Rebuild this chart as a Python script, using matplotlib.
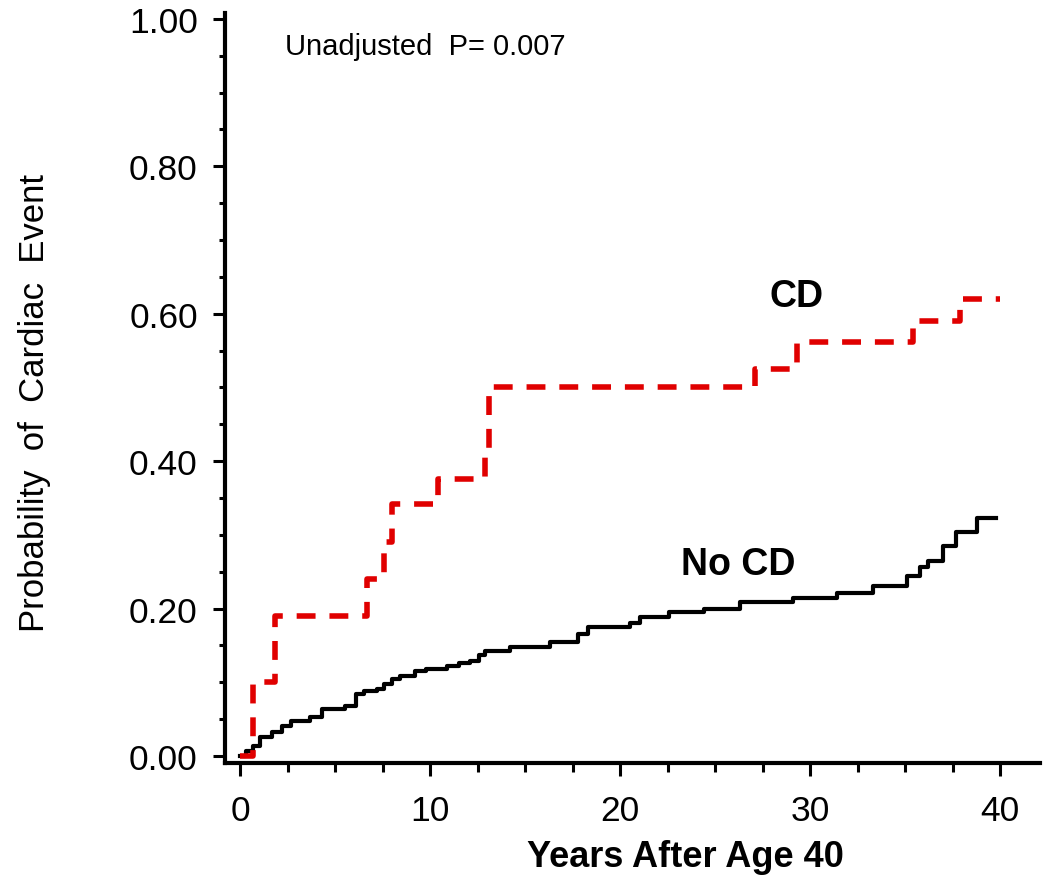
import matplotlib
matplotlib.use("Agg")
import matplotlib.pyplot as plt
from matplotlib.ticker import MultipleLocator, FormatStrFormatter

plt.rcParams['font.family'] = ['Liberation Sans', 'DejaVu Sans']

# Kaplan-Meier style cumulative incidence
cd_times = [0, 0.7, 1.85, 6.7, 7.6, 8.0, 10.4, 12.9, 13.1, 27.1, 29.3, 35.4, 37.9]
cd_probs = [0, 0.10, 0.19, 0.24, 0.29, 0.342, 0.376, 0.405, 0.50, 0.525, 0.562, 0.59, 0.62]
cd_end = 40.0

nocd_times = [0, 0.3, 0.7, 1.05, 1.7, 2.2, 2.7, 3.7, 4.3, 5.5, 6.1, 6.5, 7.2, 7.6,
              8.0, 8.4, 9.2, 9.8, 10.9, 11.5, 12.1, 12.6, 12.9, 14.2, 16.3, 17.8,
              18.3, 20.5, 21.05, 22.6, 24.4, 26.3, 29.1, 31.4, 33.3, 35.1, 35.8,
              36.2, 37.0, 37.7, 38.8]
nocd_probs = [0, 0.007, 0.014, 0.026, 0.033, 0.040, 0.047, 0.053, 0.064, 0.068,
              0.084, 0.088, 0.091, 0.098, 0.104, 0.109, 0.115, 0.118, 0.122, 0.126,
              0.129, 0.137, 0.142, 0.148, 0.155, 0.166, 0.175, 0.180, 0.188, 0.195,
              0.200, 0.209, 0.214, 0.221, 0.231, 0.244, 0.256, 0.265, 0.285, 0.304,
              0.323]
nocd_end = 39.8

fig = plt.figure(figsize=(10.5, 8.87), dpi=100)
ax = fig.add_axes([0.2143, 0.1387, 0.7762, 0.8456])

ax.plot(nocd_times + [nocd_end], nocd_probs + [nocd_probs[-1]],
        drawstyle='steps-post', color='black', lw=3.0)
ax.plot(cd_times + [cd_end], cd_probs + [cd_probs[-1]],
        drawstyle='steps-post', color='#e00000', lw=4.0, dashes=(3.4, 2.5))

ax.set_xlim(-0.79, 42.1)
ax.set_ylim(-0.0095, 1.008)

for s in ['top', 'right']:
    ax.spines[s].set_visible(False)
for s in ['left', 'bottom']:
    ax.spines[s].set_linewidth(3)

ax.xaxis.set_major_locator(MultipleLocator(10))
ax.xaxis.set_minor_locator(MultipleLocator(2.5))
ax.yaxis.set_major_locator(MultipleLocator(0.2))
ax.yaxis.set_minor_locator(MultipleLocator(0.05))
ax.yaxis.set_major_formatter(FormatStrFormatter('%.2f'))
ax.set_xticks([0, 10, 20, 30, 40])

ax.tick_params(axis='y', which='major', length=8.6, width=2.2, pad=11, labelsize=25.5)
ax.tick_params(axis='y', which='minor', length=4.3, width=2.2)
ax.tick_params(axis='x', which='major', length=9.4, width=2.2, pad=13, labelsize=25.5)
ax.tick_params(axis='x', which='minor', length=6.5, width=2.2)

ax.text(2.37, 0.963, 'Unadjusted  P= 0.007', fontsize=21, va='center', ha='left')
ax.text(29.3, 0.624, 'CD', fontsize=27, fontweight='bold', ha='center', va='center')
ax.text(26.2, 0.26, 'No CD', fontsize=27, fontweight='bold', ha='center', va='center')

fig.text(685 / 1050, 1 - 858 / 887, 'Years After Age 40', fontsize=26,
         fontweight='bold', ha='center', va='center')
fig.text(35 / 1050, 1 - 403 / 887, 'Probability  of  Cardiac  Event', fontsize=25,
         rotation=90, ha='center', va='center')

fig.savefig('out.png', dpi=100)
